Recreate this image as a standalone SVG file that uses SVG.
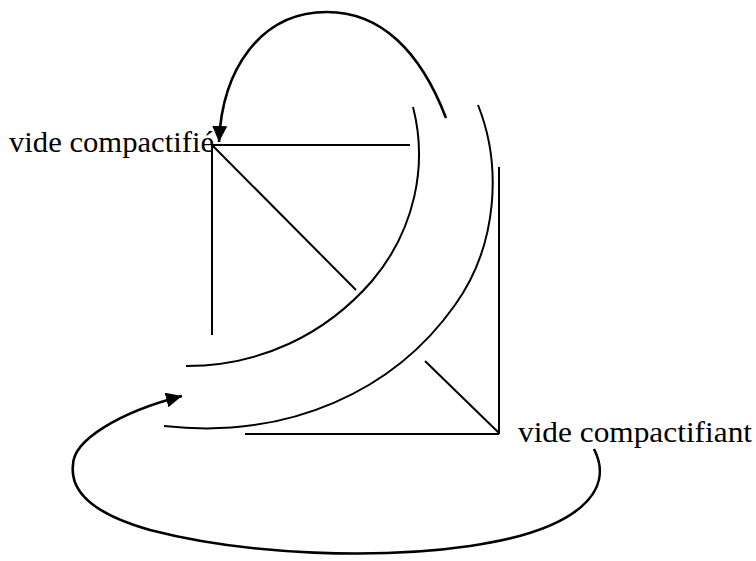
<svg xmlns="http://www.w3.org/2000/svg" width="756" height="561" viewBox="0 0 756 561">
  <style>
    .lbl { font-family: "Liberation Serif", "DejaVu Serif", serif; font-size: 29px; fill: #000; }
    .ln { stroke: #000; stroke-width: 2; fill: none; }
    .arc { stroke: #000; stroke-width: 2; fill: none; }
    .conn { stroke: #000; stroke-width: 2.6; fill: none; marker-end: url(#arrow); }
  </style>
  <defs>
    <marker id="arrow" markerUnits="userSpaceOnUse" markerWidth="18" markerHeight="16" refX="16" refY="7.5" orient="auto">
      <path d="M0,0 L16,7.5 L0,15 z" fill="#000"/>
    </marker>
  </defs>
  <rect width="756" height="561" fill="#fff"/>

  <g id="shapes">
    <line class="ln" x1="212" y1="145" x2="410" y2="145"/>
    <line class="ln" x1="212" y1="145" x2="212" y2="335"/>
    <line class="ln" x1="213" y1="146" x2="356" y2="290"/>
    <line class="ln" x1="499" y1="167" x2="499" y2="434"/>
    <line class="ln" x1="245" y1="434" x2="499" y2="434"/>
    <line class="ln" x1="425" y1="361" x2="499" y2="433"/>
    <path class="arc" d="M413,107 C428,165 415,230 372,281 C325,335 260,366 186,366"/>
    <path class="arc" d="M478,105 C502,165 498,245 455,305 C395,390 290,440 164,426"/>
  </g>

  <g id="node-vide-compactifie">
    <text class="lbl" x="9" y="152" textLength="205" lengthAdjust="spacingAndGlyphs">vide compactifié</text>
  </g>
  <g id="node-vide-compactifiant">
    <text class="lbl" x="518" y="442" textLength="234" lengthAdjust="spacingAndGlyphs">vide compactifiant</text>
  </g>

  <g id="connectors">
    <path class="conn" d="M446,118 C420,50 380,12 327,12 C260,12 222,70 219,142"/>
    <path class="conn" d="M594,449 C615,490 580,530 470,546 C380,559 250,556 150,530 C90,513 70,490 73,465 C73,440 120,412 182,396"/>
  </g>
</svg>
